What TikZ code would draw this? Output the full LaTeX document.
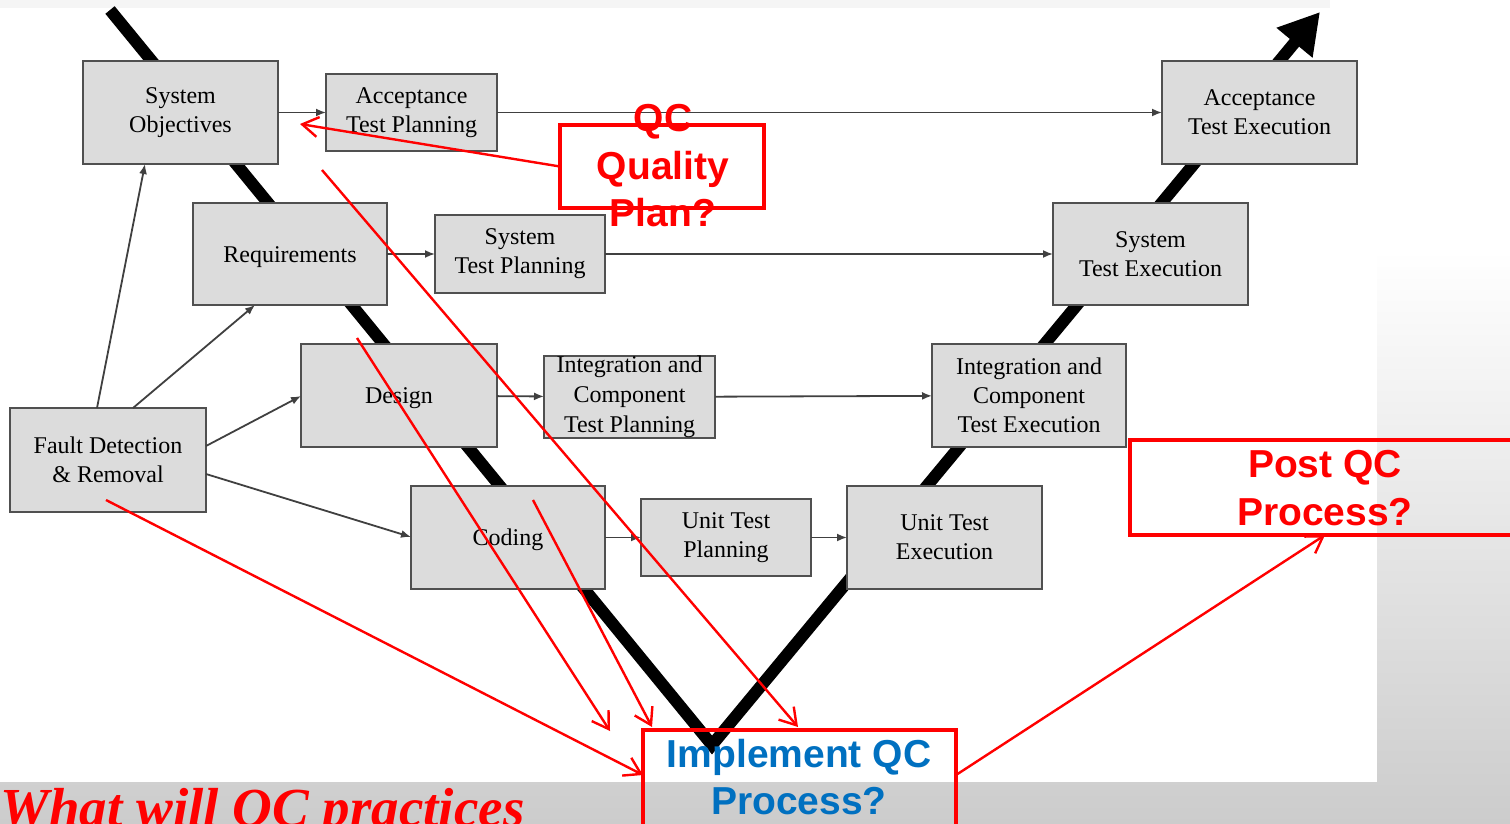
\documentclass[tikz,border=0pt]{standalone}
\usepackage{fontspec}
\setmainfont{Liberation Serif}
\newfontfamily\sansb{Liberation Sans}
\usetikzlibrary{arrows.meta,calc}
\definecolor{boxfill}{HTML}{DCDCDC}
\definecolor{boxline}{HTML}{505050}
\definecolor{qcred}{HTML}{FF0000}
\definecolor{qcblue}{HTML}{0070C0}
\begin{document}
\begin{tikzpicture}[x=0.5pt,y=-0.5pt,
  vbox/.style={draw=boxline, fill=boxfill, line width=1pt, inner sep=0pt, outer sep=0pt,
    align=center, font=\fontsize{12}{14.5}\selectfont,
    execute at begin node={\rule{0pt}{11pt}}},
  flow/.style={draw=black!75, line width=0.9pt, -{Latex[length=5pt,width=4pt]}},
  redbox/.style={draw=qcred, line width=2pt, inner sep=0pt, outer sep=0pt},
  redtext/.style={text=qcred, align=center, inner sep=0pt,
    font=\sansb\bfseries\fontsize{19.5}{23.75}\selectfont},
  redarrow/.style={draw=qcred, line width=1.2pt, -{Straight Barb[length=8pt,width=10pt]}},
]
\useasboundingbox (0,0) rectangle (1510,824);

% slide background
\fill[white] (0,0) rectangle (1510,824);
\shade[top color=white, bottom color=gray!40] (0,250) rectangle (1510,824);
\fill[gray!8] (0,0) rectangle (1330,8);
\fill[white] (0,8) rectangle (1377,782);

% the V of the life cycle
\coordinate (vtop) at (110,10);
\coordinate (vbot) at (712,745);
\coordinate (vend) at (1320,12);
\draw[line width=6pt, line join=miter, -{Triangle[length=20pt,width=22pt]}]
  (vtop) -- (vbot) -- (vend);

% development side
\node[vbox, minimum width=97.5pt, minimum height=51.5pt] (so)   at (180.5,112.5) {System\\Objectives};
\node[vbox, minimum width=97pt,   minimum height=51pt]   (req)  at (290,254)     {Requirements};
\node[vbox, minimum width=98pt,   minimum height=51.5pt] (des)  at (399,395.5)   {Design};
\node[vbox, minimum width=97pt,   minimum height=51.5pt] (cod)  at (508,537.5)   {Coding};

% planning
\node[vbox, minimum width=85.5pt, minimum height=38.5pt] (atp)  at (411.5,112.5) {Acceptance\\Test Planning};
\node[vbox, minimum width=85pt,   minimum height=39pt]   (stp)  at (520,254)     {System\\Test Planning};
\node[vbox, minimum width=85.5pt, minimum height=40pt, font=\fontsize{12}{15}\selectfont,
      execute at begin node={}] (ictp) at (629.5,397) {Integration and\\Component\\Test Planning};
\node[vbox, minimum width=85pt,   minimum height=38.5pt] (utp)  at (726,537.5)   {Unit Test\\Planning};

% execution side
\node[vbox, minimum width=97.5pt, minimum height=51.5pt] (ute)  at (944.5,537.5) {Unit Test\\Execution};
\node[vbox, minimum width=97pt,   minimum height=51.5pt] (icte) at (1029,395.5)  {Integration and\\Component\\Test Execution};
\node[vbox, minimum width=97.5pt, minimum height=51pt]   (ste)  at (1150.5,254)  {System\\Test Execution};
\node[vbox, minimum width=97.5pt, minimum height=51.5pt] (ate)  at (1259.5,112.5) {Acceptance\\Test Execution};

\node[vbox, minimum width=98pt,   minimum height=52pt]   (fdr)  at (108,460)     {Fault Detection\\\& Removal};

% horizontal flows
\draw[flow] (so)   -- (atp);
\draw[flow] (atp)  -- (ate);
\draw[flow] (req)  -- (stp);
\draw[flow] (stp)  -- (ste);
\draw[flow] (des)  -- (ictp);
\draw[flow] (ictp) -- (icte);
\draw[flow] (cod)  -- (utp);
\draw[flow] (utp)  -- (ute);

% feedback from fault detection
\draw[flow] ($(fdr.north west)+(87,0)$)  -- ($(so.south west)+(62,0)$);
\draw[flow] ($(fdr.north west)+(123,0)$) -- ($(req.south west)+(62,0)$);
\draw[flow] ($(fdr.north east)+(0,38)$)  -- ($(des.north west)+(0,52)$);
\draw[flow] ($(fdr.north east)+(0,66)$)  -- ($(cod.north west)+(0,51)$);

% quality-control call-outs
\node[redbox, minimum width=102pt, minimum height=41.5pt] (qc) at (662,166.5) {};
\node[redtext] (qct) at (663,166) {QC\\Quality\\Plan?};

\node[redbox, minimum width=195pt, minimum height=47.5pt] (post) at (1325,487.5) {};
\node[redtext] (postt) at (1325,488) {Post QC\\Process?};

\node[redbox, minimum width=156.5pt, minimum height=50pt] (impl) at (799.5,780) {};
\node[redtext, text=qcblue] (implt) at (799,777) {Implement QC\\Process?};

% red pointers
\coordinate (qcTip) at (300,124);
\coordinate (r1s) at (106,500);
\coordinate (r2s) at (357,338);
\coordinate (r3s) at (533,500);
\coordinate (r4s) at (322,170);
\coordinate (r1e) at (643,775);
\coordinate (r2e) at (610,731);
\coordinate (r3e) at (652,727);
\coordinate (r4e) at (798,727);
\coordinate (r5s) at (956,775);

\draw[redarrow] (qc.west) -- (qcTip);
\draw[redarrow] (r1s) -- (r1e);
\draw[redarrow] (r2s) -- (r2e);
\draw[redarrow] (r3s) -- (r3e);
\draw[redarrow] (r4s) -- (r4e);
\draw[redarrow] (r5s) -- (post.south);

% slide caption
\node[anchor=base west, inner sep=0pt, text=qcred,
  font=\bfseries\itshape\fontsize{27.5}{30}\selectfont] (cap) at (0,826) {What will QC practices};
\end{tikzpicture}
\end{document}
